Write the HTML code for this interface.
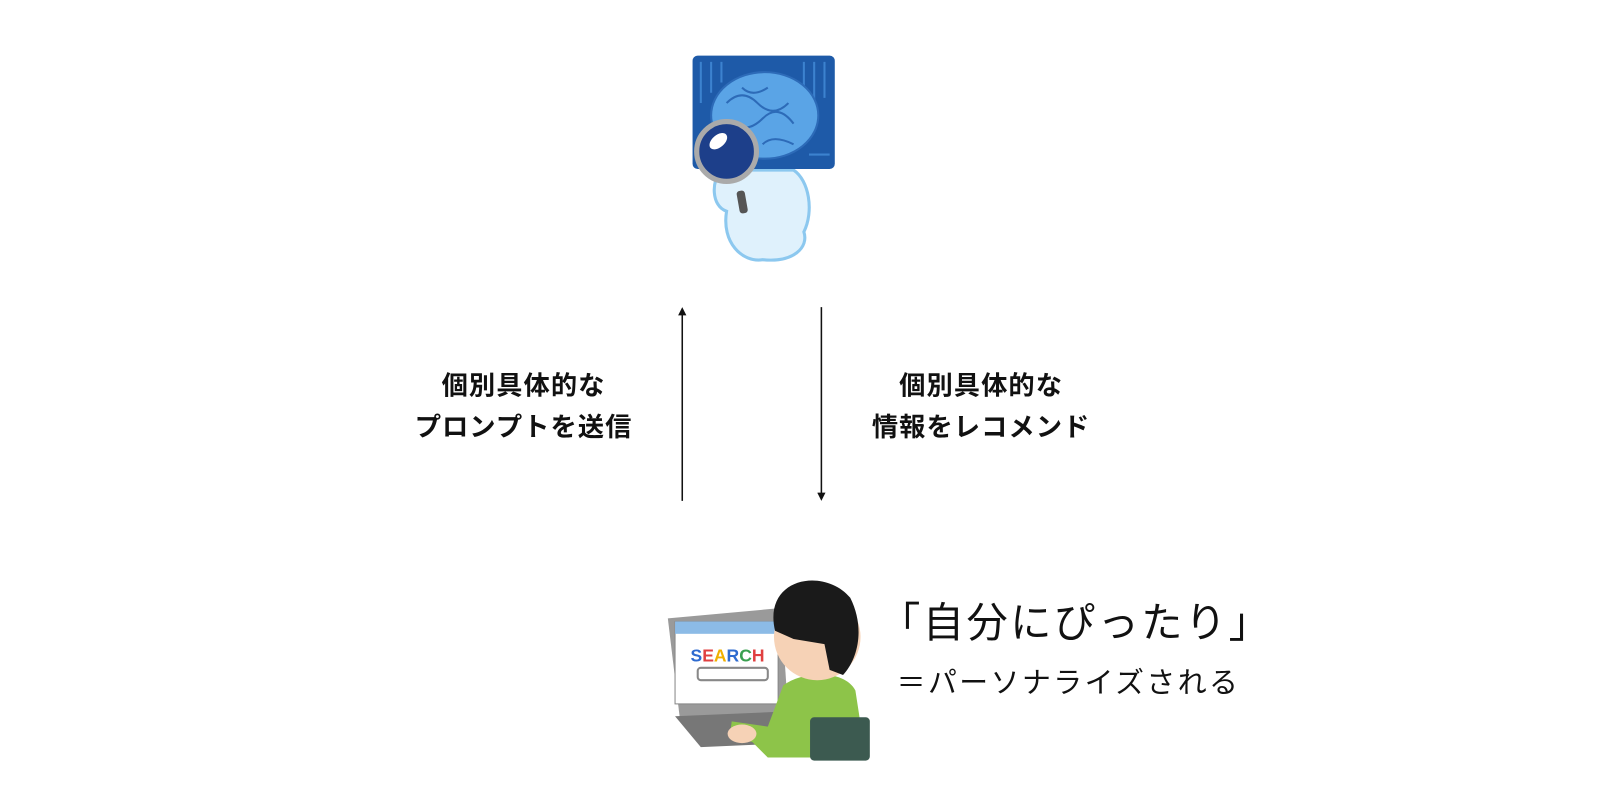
<!DOCTYPE html>
<html><head><meta charset="utf-8"><style>
body{margin:0;width:1616px;height:804px;background:#fff;position:relative;overflow:hidden;font-family:"Liberation Sans","Noto Sans CJK JP",sans-serif;color:#111}
#w{position:absolute;left:0;top:0;width:1568px;height:780px;transform:scale(1.0306);transform-origin:0 0}
.t{position:absolute;white-space:nowrap;font-weight:bold;font-size:25.5px;letter-spacing:1px;text-align:center}
</style></head><body><div id="w">
<svg width="1568" height="780" style="position:absolute;left:0;top:0">
<defs><marker id="a" markerWidth="8" markerHeight="8" refX="4" refY="4" orient="auto" markerUnits="userSpaceOnUse"><path d="M0,0 L8,4 L0,8z" fill="#111"/></marker></defs>
<line x1="662" y1="486" x2="662" y2="302" stroke="#111" stroke-width="1.5" marker-end="url(#a)"/>
<line x1="797" y1="298" x2="797" y2="482" stroke="#111" stroke-width="1.5" marker-end="url(#a)"/>
<path d="M700,165 C690,175 690,200 705,205 C700,235 720,255 740,252 C770,255 785,240 780,225 C790,205 785,175 770,165z" fill="#dff1fc" stroke="#8cc8ef" stroke-width="3"/>
<rect x="672" y="54" width="138" height="110" rx="5" fill="#1e5aa8"/>
<g stroke="#3c82cf" stroke-width="2" fill="none"><path d="M680,60v40M690,60v30M700,60v20M780,60v30M790,60v45M800,60v35M680,150h20M785,150h20M690,130h20"/></g>
<ellipse cx="742" cy="112" rx="52" ry="42" fill="#5aa4e6" stroke="#2d6bb8" stroke-width="2"/>
<g stroke="#2d6bb8" stroke-width="2" fill="none"><path d="M705,100 q15,-15 30,0 t30,0M710,120 q15,10 30,-5 t30,5M720,85 q10,10 25,0M740,140 q10,-10 30,0"/></g>
<rect x="716" y="185" width="8" height="22" rx="3" fill="#555" transform="rotate(-10 720 195)"/>
<circle cx="705" cy="147" r="29" fill="#1d3f8a" stroke="#aaa" stroke-width="5"/>
<ellipse cx="697" cy="137" rx="10" ry="6" fill="#fff" transform="rotate(-40 697 137)"/>
<path d="M648,600 L758,590 L765,695 L660,700z" fill="#9a9a9a"/>
<rect x="655" y="603" width="100" height="80" fill="#fff" stroke="#888"/>
<rect x="655" y="603" width="100" height="12" fill="#8cbbe6"/>
<text x="670" y="642" font-size="17" font-weight="bold" fill="#2e6bd0" font-family="Liberation Sans">S<tspan fill="#e04040">E</tspan><tspan fill="#f0b000">A</tspan><tspan fill="#2e6bd0">R</tspan><tspan fill="#3aa050">C</tspan><tspan fill="#e04040">H</tspan></text>
<rect x="677" y="648" width="68" height="12" rx="3" fill="#fff" stroke="#888" stroke-width="2"/>
<path d="M655,695 L770,690 L790,720 L680,725z" fill="#777"/>
<path d="M760,665 C780,650 820,650 830,670 L840,735 L745,735 L730,720 L708,715 L710,700 L745,705z" fill="#8dc449"/>
<rect x="786" y="696" width="58" height="42" rx="4" fill="#3c5a50"/>
<circle cx="793" cy="618" r="42" fill="#f6d2b6"/>
<path d="M752,612 C740,560 800,550 825,580 C840,610 832,640 818,655 L805,650 L800,625 L770,620z" fill="#1a1a1a"/>
<ellipse cx="720" cy="712" rx="14" ry="9" fill="#f6d2b6"/>
</svg>
<div class="t" style="left:398px;top:354px;width:220px">個別具体的な</div>
<div class="t" style="left:398px;top:394px;width:220px">プロンプトを送信</div>
<div class="t" style="left:842px;top:354px;width:220px">個別具体的な</div>
<div class="t" style="left:842px;top:394px;width:220px">情報をレコメンド</div>
<div class="t" style="left:853px;top:572px;font-weight:normal;font-size:40px;letter-spacing:2.4px;text-align:left">「自分にぴったり」</div>
<div class="t" style="left:870px;top:641px;font-weight:normal;font-size:28px;letter-spacing:2.4px;text-align:left">＝パーソナライズされる</div>
</div></body></html>
